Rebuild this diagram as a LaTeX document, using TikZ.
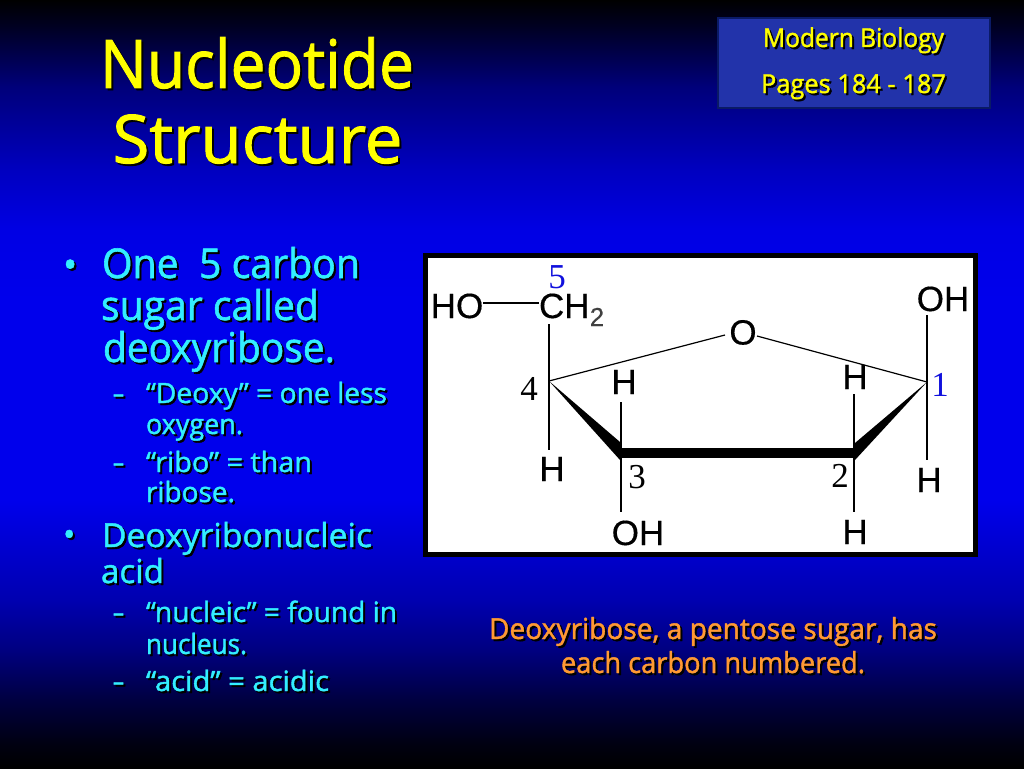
\documentclass[tikz,border=0pt]{standalone}
\usepackage{graphicx}
\usepackage{fontspec}
\setmainfont{Open Sans}[FakeBold=1.4]
\newfontfamily\chemfont{Liberation Sans}[FakeBold=0.4]
\newfontfamily\numfont{Liberation Serif}
\definecolor{ttl}{HTML}{FFFF00}
\definecolor{cyn}{HTML}{33EEFF}
\definecolor{org}{HTML}{FF9933}
\definecolor{boxf}{HTML}{2233AA}
\definecolor{boxl}{HTML}{0A1A66}
\definecolor{numb}{HTML}{1111DD}
\definecolor{gza}{HTML}{000010}
\definecolor{gzb}{HTML}{000040}
\definecolor{gzc}{HTML}{000080}
\definecolor{gzd}{HTML}{0000B0}
\definecolor{gze}{HTML}{0000EC}
\definecolor{gzf}{HTML}{0000E4}
\definecolor{gzg}{HTML}{0000C0}
\definecolor{gzh}{HTML}{00007A}
\definecolor{gzi}{HTML}{000020}
\pgfdeclareverticalshading{slidebg}{100bp}{color(0bp)=(black);color(25bp)=(black);color(26.5bp)=(gza);color(29.43bp)=(gzb);color(32.68bp)=(gzc);color(35.94bp)=(gzd);color(42.45bp)=(gze);color(55.47bp)=(gze);color(60.03bp)=(gzf);color(63.93bp)=(gzg);color(69.34bp)=(gzh);color(73.37bp)=(gzi);color(75bp)=(black);color(100bp)=(black)}
\newcommand{\fsz}[1]{\fontsize{#1}{#1}\selectfont}
% shadowed text fitted to a width: name, x, y(baseline), anchor, colour, size, width, text
\newcommand{\stxt}[8]{%
  \node[txt,anchor=#4,text=black] (#1s) at (#2+2,#3+2) {\resizebox{#7pt}{\height}{\fsz{#6}#8}};
  \node[txt,anchor=#4,text=#5] (#1) at (#2,#3) {\resizebox{#7pt}{\height}{\fsz{#6}#8}};}
% shadowed bullet at natural width: name, x, y, size
\newcommand{\sbul}[4]{%
  \node[txt,anchor=base west,text=black] (#1s) at (#2+2,#3+2) {\fsz{#4}•};
  \node[txt,anchor=base west,text=cyn] (#1) at (#2,#3) {\fsz{#4}•};}
\tikzset{
  x=1pt,y=-1pt,
  txt/.style={inner sep=0pt,outer sep=0pt},
  chem/.style={inner sep=0pt,outer sep=0pt,anchor=base,text=black,font=\chemfont\fontsize{35}{35}\selectfont},
  numl/.style={inner sep=0pt,outer sep=0pt,anchor=base,font=\numfont\fontsize{35}{35}\selectfont},
  bond/.style={draw=black,line width=1.2pt},
  heavy/.style={draw=black,line width=2.6pt},
  wedge/.style={fill=black,draw=none},
}
\begin{document}
\begin{tikzpicture}
\useasboundingbox (0,0) rectangle (1024,768);
\shade[shading=slidebg] (0,0) rectangle (1024,768);
% reference box
\node[draw=boxl,fill=boxf,line width=2pt,outer sep=0pt,minimum width=272pt,minimum height=90pt,inner sep=0pt] (refbox) at (853.5,63) {};
\stxt{refa}{853.5}{47}{base}{ttl}{26}{181}{Modern Biology}
\stxt{refb}{853.5}{93}{base}{ttl}{26}{185}{Pages 184 - 187}
% title
\stxt{titlea}{257}{88}{base}{ttl}{67}{314}{Nucleotide}
\stxt{titleb}{257.5}{163}{base}{ttl}{67}{290}{Structure}
% bullets
\sbul{ba}{63}{278}{38}
\stxt{la}{102}{278}{base west}{cyn}{41}{258}{One\ \ 5 carbon}
\stxt{lb}{101}{320}{base west}{cyn}{41}{218}{sugar called}
\stxt{lc}{103}{362}{base west}{cyn}{41}{232}{deoxyribose.}
\stxt{da}{113}{403}{base west}{cyn}{28}{11}{–}
\stxt{ld}{146}{403}{base west}{cyn}{28}{241}{“Deoxy” = one less}
\stxt{le}{146}{434}{base west}{cyn}{28}{97}{oxygen.}
\stxt{db}{113}{472}{base west}{cyn}{28}{11}{–}
\stxt{lf}{146}{472}{base west}{cyn}{28}{166}{“ribo” = than}
\stxt{lg}{146}{502}{base west}{cyn}{28}{89}{ribose.}
\sbul{bb}{63}{546}{33}
\stxt{lh}{102}{547}{base west}{cyn}{33}{270}{Deoxyribonucleic}
\stxt{li}{101}{583}{base west}{cyn}{33}{63}{acid}
\stxt{dc}{113}{622}{base west}{cyn}{28}{11}{–}
\stxt{lj}{146}{622}{base west}{cyn}{28}{251}{“nucleic” = found in}
\stxt{lk}{146}{654}{base west}{cyn}{28}{101}{nucleus.}
\stxt{dd}{113}{691}{base west}{cyn}{28}{11}{–}
\stxt{ll}{146}{691}{base west}{cyn}{28}{183}{“acid” = acidic}
% caption
\stxt{capa}{713}{639}{base}{org}{29}{448}{Deoxyribose, a pentose sugar, has}
\stxt{capb}{713}{673}{base}{org}{29}{304}{each carbon numbered.}
% image panel
\node[draw=black,fill=white,line width=5pt,outer sep=0pt,minimum width=550pt,minimum height=299pt,inner sep=0pt] (panel) at (700,404.5) {};
% atoms
\coordinate (cf) at (549,381);
\coordinate (cth) at (621,453);
\coordinate (ctw) at (854,453);
\coordinate (con) at (927,382);
\coordinate (olft) at (725,335);
\coordinate (orgt) at (757,336);
\node[chem] (ho) at (457,318) {HO};
\node[chem,anchor=base west] (chc) at (539,318) {CH};
\node[inner sep=0pt,anchor=base west,text=black!75,font=\chemfont\fontsize{26}{26}\selectfont] (sub) at (chc.base east) [yshift=-8pt] {2};
\node[numl,text=numb] (nfive) at (557,288) {5};
\node[numl,text=black] (nfour) at (529,400) {4};
\node[numl,text=black] (nthree) at (637,488) {3};
\node[numl,text=black] (ntwo) at (840,487) {2};
\node[numl,text=numb] (none) at (940,396) {1};
\node[chem] (oring) at (743,344.5) {O};
\node[chem] (hth) at (624,394) {H};
\node[chem] (htw) at (855,389) {H};
\node[chem] (hfo) at (552,481) {H};
\node[chem] (hon) at (929,492) {H};
\node[chem] (hbt) at (855,544) {H};
\node[chem] (ohb) at (638,545) {OH};
\node[chem] (oht) at (943,311) {OH};
% bonds
\draw[bond] (ho.east |- 0,303) -- (chc.west |- 0,303);
\draw[bond] (cf |- 0,324) -- (cf);
\draw[bond] (cf) -- (olft);
\draw[bond] (orgt) -- (con);
\draw[bond] (cf) -- (cf |- 0,433);
\draw[heavy] (cf |- 0,433) -- (cf |- 0,450);
\draw[heavy] (cth |- 0,402) -- (cth |- 0,418);
\draw[bond] (cth |- 0,418) -- (cth);
\draw[bond] (cth) -- (cth |- 0,512);
\draw[bond] (ctw |- 0,394) -- (ctw |- 0,512);
\draw[bond] (con |- 0,315) -- (con |- 0,460);
\fill[wedge] (cf) -- (620,442) -- (620,460) -- cycle;
\fill[wedge] (con) -- (855,443) -- (855,460) -- cycle;
\draw[draw=black,line width=10pt] (cth) -- (ctw);
\end{tikzpicture}
\end{document}
